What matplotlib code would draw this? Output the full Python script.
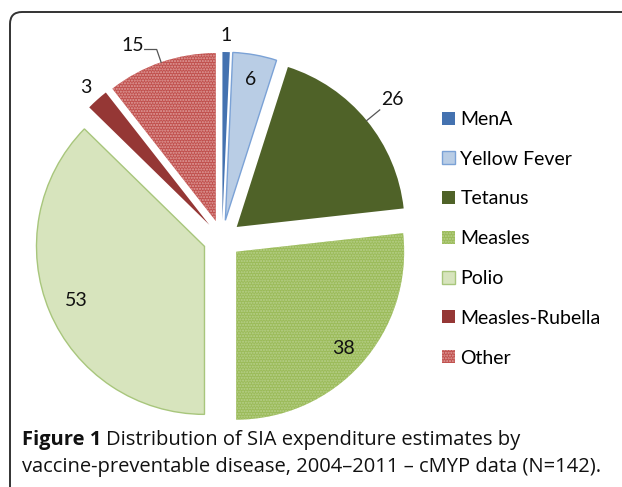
import numpy as np
import matplotlib.pyplot as plt
from matplotlib.patches import FancyBboxPatch

diseases = ['MenA', 'Yellow Fever', 'Tetanus', 'Measles', 'Polio',
            'Measles-Rubella', 'Other']
counts = [1, 6, 26, 38, 53, 3, 15]

colors = ['#4472b0', '#b9cde5', '#4f6228', '#9bbb59', '#d7e4bd', '#953735', '#c0504d']
edges = ['#4472b0', '#7ba2d6', '#4f6228', '#b8d08c', '#a8c67c', '#953735', '#e0a09e']
widths = [0, 1.0, 0, 0, 1.0, 0, 0]
hatches = [None, None, None, '......', None, None, '......']
label_r = [1.10, 0.85, 1.20, 0.86, 0.83, 1.10, 1.15]

W, H = 622, 487
CX, CY = 222, H - 239   # pie centre in pixels
R = 168
EXPL = 19

plt.rcParams['hatch.linewidth'] = 1.0

fig = plt.figure(figsize=(W / 100, H / 100), dpi=100)
ax = fig.add_axes([0, 0, 1, 1])

wedges, _ = ax.pie(counts, center=(CX, CY), radius=R, explode=[EXPL] * len(counts),
                   startangle=90, counterclock=False, colors=colors)
for w, ec, lw, h in zip(wedges, edges, widths, hatches):
    w.set_edgecolor(ec)
    w.set_linewidth(lw)
    if h:
        w.set_hatch(h)

ax.set_xlim(0, W)
ax.set_ylim(0, H)
ax.set_aspect('equal')
ax.axis('off')

lab_font = dict(family='Lato', fontsize=14, color='#111111')

# data labels
for i, (w, n) in enumerate(zip(wedges, counts)):
    tm = np.radians((w.theta1 + w.theta2) / 2)
    cx, cy = w.center
    d = np.array([np.cos(tm), np.sin(tm)])
    if diseases[i] == 'Other':
        p0 = np.array([cx, cy]) + R * d
        p1 = np.array([cx, cy]) + 1.08 * R * d
        p2 = p1 + np.array([-12, 0])
        ax.plot([p0[0], p1[0], p2[0]], [p0[1], p1[1], p2[1]], color='#555555', lw=0.9)
        ax.text(p2[0] - 1, p2[1] + 4, str(n), ha='right', va='center', **lab_font)
        continue
    if diseases[i] == 'Tetanus':
        p0 = np.array([cx, cy]) + R * d
        p1 = np.array([cx, cy]) + 1.1 * R * d
        ax.plot([p0[0], p1[0]], [p0[1], p1[1]], color='#555555', lw=0.9)
    p = np.array([cx, cy]) + label_r[i] * R * d
    ax.text(p[0], p[1], str(n), ha='center', va='center', **lab_font)

ax.legend(wedges, diseases, loc='upper left',
          bbox_to_anchor=(442 / W, 1 - 111 / H), bbox_transform=fig.transFigure,
          frameon=False, prop=dict(family='Lato', size=14),
          handlelength=0.65, handleheight=0.65, handletextpad=0.3,
          labelspacing=1.17, borderpad=0, borderaxespad=0)

# rounded frame, running off the right and bottom edges
frame = FancyBboxPatch((10, -60), 700, H - 12 + 60,
                       boxstyle='round,pad=0,rounding_size=12',
                       facecolor='none', edgecolor='#333333', lw=1.4)
ax.add_patch(frame)

# caption
t1 = fig.text(22 / W, 1 - 445 / H, 'Figure 1', family='Open Sans', weight='bold',
              fontsize=14.5, color='#111111', va='baseline')
fig.canvas.draw()
bb = t1.get_window_extent()
fig.text((bb.x1 + 5) / W, 1 - 445 / H, 'Distribution of SIA expenditure estimates by',
         family='Open Sans', fontsize=14.5, color='#111111', va='baseline')
fig.text(22 / W, 1 - 472 / H,
         'vaccine-preventable disease, 2004\u20132011 \u2013 cMYP data (N=142).',
         family='Open Sans', fontsize=14.5, color='#111111', va='baseline')

fig.savefig('out.png', dpi=100)
